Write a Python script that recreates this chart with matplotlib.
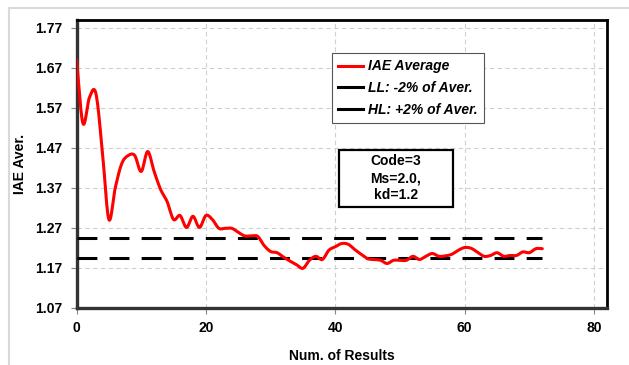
import numpy as np
import matplotlib
matplotlib.use("Agg")
import matplotlib.pyplot as plt
from matplotlib.lines import Line2D
from matplotlib.patches import Rectangle

plt.rcParams['font.family'] = ['Liberation Sans', 'DejaVu Sans']

# Data
x_vals = list(range(0, 73))
iae_avg = [1.69, 1.53, 1.595, 1.605, 1.46, 1.29, 1.37, 1.43, 1.45, 1.45,
           1.41, 1.46, 1.41, 1.365, 1.335, 1.29, 1.30, 1.27, 1.298, 1.27,
           1.30, 1.29, 1.268, 1.268, 1.268, 1.258, 1.249, 1.249, 1.248, 1.225,
           1.21, 1.207, 1.196, 1.186, 1.177, 1.168, 1.188, 1.198, 1.19, 1.213,
           1.222, 1.23, 1.228, 1.215, 1.203, 1.192, 1.19, 1.188, 1.18, 1.188,
           1.188, 1.188, 1.198, 1.19, 1.198, 1.205, 1.198, 1.199, 1.203, 1.213,
           1.22, 1.218, 1.208, 1.198, 1.2, 1.207, 1.198, 1.2, 1.2, 1.209,
           1.207, 1.217, 1.217]
ll_value = 1.194
hl_value = 1.243
limit_x = [0, 72]
y_ticks = [1.07, 1.17, 1.27, 1.37, 1.47, 1.57, 1.67, 1.77]
x_ticks = [0, 20, 40, 60, 80]
series_labels = ['IAE Average', 'LL: -2% of Aver.', 'HL: +2% of Aver.']
info_text = 'Code=3\nMs=2.0,\nkd=1.2'


def catmull_rom(x, y, n=12):
    x = np.asarray(x, float)
    y = np.asarray(y, float)
    px = np.concatenate([[2 * x[0] - x[1]], x, [2 * x[-1] - x[-2]]])
    py = np.concatenate([[2 * y[0] - y[1]], y, [2 * y[-1] - y[-2]]])
    ox, oy = [], []
    t = np.linspace(0, 1, n, endpoint=False)
    for i in range(1, len(px) - 2):
        p0, p1, p2, p3 = py[i - 1], py[i], py[i + 1], py[i + 2]
        q0, q1, q2, q3 = px[i - 1], px[i], px[i + 1], px[i + 2]
        fy = 0.5 * ((2 * p1) + (-p0 + p2) * t + (2 * p0 - 5 * p1 + 4 * p2 - p3) * t ** 2
                    + (-p0 + 3 * p1 - 3 * p2 + p3) * t ** 3)
        fx = 0.5 * ((2 * q1) + (-q0 + q2) * t + (2 * q0 - 5 * q1 + 4 * q2 - q3) * t ** 2
                    + (-q0 + 3 * q1 - 3 * q2 + q3) * t ** 3)
        ox.extend(fx)
        oy.extend(fy)
    ox.append(x[-1])
    oy.append(y[-1])
    return np.array(ox), np.array(oy)


fig = plt.figure(figsize=(6.29, 3.65), dpi=100)
fig.patches.append(Rectangle((9 / 629, -0.1), 1.2, (365 - 8) / 365 + 0.1,
                             transform=fig.transFigure, fill=False,
                             edgecolor='#d9d9d9', linewidth=1.5, zorder=0))

ax = fig.add_axes([76.5 / 629, 1 - 307.5 / 365, (607 - 76.5) / 629, (307.5 - 19.5) / 365])

sx, sy = catmull_rom(x_vals, iae_avg)
ax.plot(sx, sy, color='#ff0000', linewidth=2.2, zorder=4, solid_capstyle='round')
ax.plot(limit_x, [ll_value, ll_value], color='black', linewidth=2.2,
        dashes=(6.5, 4), zorder=3)
ax.plot(limit_x, [hl_value, hl_value], color='black', linewidth=2.2,
        dashes=(6.5, 4), zorder=3)

ax.set_xlim(0, 82)
ax.set_ylim(1.07, 1.79)
ax.set_xticks(x_ticks)
ax.set_yticks(y_ticks)
ax.set_yticklabels([f"{v:.2f}" for v in y_ticks])
ax.grid(True, color='#cfcfcf', linestyle=(0, (4, 3)), linewidth=0.8)
ax.set_axisbelow(True)

for side in ['top', 'right']:
    ax.spines[side].set_color('black')
    ax.spines[side].set_linewidth(2.0)
for side in ['left', 'bottom']:
    ax.spines[side].set_color('#333333')
    ax.spines[side].set_linewidth(2.4)

ax.tick_params(axis='both', direction='out', length=4, width=0.8, color='#888888',
               labelsize=10, pad=6)
for lbl in ax.get_xticklabels() + ax.get_yticklabels():
    lbl.set_fontweight('bold')

ax.set_xlabel('Num. of Results', fontsize=10, fontweight='bold', labelpad=10)
ax.set_ylabel('IAE Aver.', fontsize=10, fontweight='bold', labelpad=6)

handles = [Line2D([0], [0], color='#ff0000', linewidth=2.2),
           Line2D([0], [0], color='black', linewidth=2.2),
           Line2D([0], [0], color='black', linewidth=2.2)]
leg = ax.legend(handles, series_labels, loc='upper left', bbox_to_anchor=(0.481, 0.883),
                prop={'size': 10, 'weight': 'bold', 'style': 'italic'},
                fancybox=False, framealpha=1, edgecolor='#555555',
                handlelength=1.8, handletextpad=0.35, borderpad=0.45,
                labelspacing=0.55, borderaxespad=0)
leg.get_frame().set_linewidth(0.8)
leg.set_zorder(6)

# info box
box = Rectangle((0.4954, 0.35), 0.7091 - 0.4954, 0.5469 - 0.35, transform=ax.transAxes,
                facecolor='white', edgecolor='black', linewidth=1.6, zorder=6)
ax.add_patch(box)
ax.text(0.602, 0.449, info_text, transform=ax.transAxes,
        ha='center', va='center', fontsize=10, fontweight='bold', linespacing=1.3,
        zorder=7)

fig.savefig('out.png', dpi=100)
